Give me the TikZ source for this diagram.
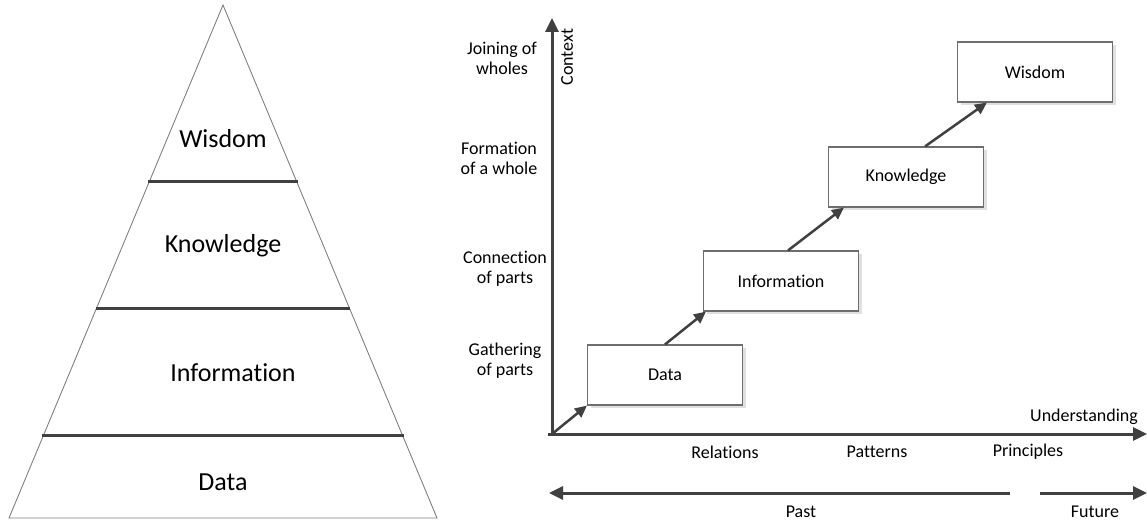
\documentclass[tikz,border=0pt]{standalone}
\usepackage{fontspec}
\setmainfont{Carlito}[Ligatures=NoCommon]
\usetikzlibrary{positioning, arrows.meta, shadows, calc}
\definecolor{linegray}{HTML}{404040}
\definecolor{boxgray}{HTML}{6E6E6E}

\begin{document}
\begin{tikzpicture}[x=1pt, y=-1pt,
  every node/.style={font=\fontsize{18}{20}\selectfont, align=center, inner sep=0pt},
  big/.style={font=\fontsize{26}{30}\selectfont},
  level/.style={line width=3pt, draw=linegray},
  stage/.style={draw=boxgray, line width=1.1pt, fill=white, minimum width=155pt, minimum height=60pt,
    drop shadow={shadow xshift=3pt, shadow yshift=-3pt, fill=black!12, opacity=1}},
  axis/.style={line width=3pt, draw=linegray, -{Triangle[length=14pt,width=13pt]}},
  link/.style={line width=2.5pt, draw=linegray, -{Triangle[length=12pt,width=11pt]}}]
  \useasboundingbox (0,0) rectangle (1147,521);

  % pyramid
  \coordinate (apex) at (223,5);
  \coordinate (bl) at (9,518);
  \coordinate (br) at (437,518);
  \draw[gray, line width=0.9pt] (apex) -- (br) -- (bl) -- cycle;
  \draw[level] ($(apex)!0.345!(bl)+(-1,0)$) -- ($(apex)!0.345!(br)+(1,0)$);
  \draw[level] ($(apex)!0.591!(bl)+(-1,0)$) -- ($(apex)!0.591!(br)+(1,0)$);
  \draw[level] ($(apex)!0.840!(bl)+(-1,0)$) -- ($(apex)!0.840!(br)+(1,0)$);
  \node[big] (pw) at (223,139) {Wisdom};
  \node[big] (pk) at (223,246) {Knowledge};
  \node[big] (pi) at (233,373) {Information};
  \node[big] (pd) at (223,482) {Data};

  % axes
  \coordinate (o) at (552,434);
  \coordinate (xstart) at (548,434);
  \coordinate (ytip) at (552,18);
  \coordinate (xtip) at (1147,434);
  \draw[axis] ($(o)+(0,1.5)$) -- (ytip);
  \draw[axis] (xstart) -- (xtip);
  \node[rotate=90] (context) at (567,57) {Context};
  \node (under) at (1084,417) {Understanding};
  \node (rel) at (725,452) {Relations};
  \node (pat) at (877,452) {Patterns};
  \node (pri) at (1028,452) {Principles};

  % levels of the context axis
  \node (l4) at (502,58) {Joining of\\wholes};
  \node (l3) at (499,158) {Formation\\of a whole};
  \node (l2) at (505,269) {Connection\\of parts};
  \node (l1) at (505,361) {Gathering\\of parts};

  % stages
  \node[stage] (data) at (665,375) {Data};
  \node[stage] (info) at (781,281) {Information};
  \node[stage] (know) at (906,177) {Knowledge};
  \node[stage] (wis) at (1035,72) {Wisdom};
  \draw[link] (o) -- (data.south west);
  \draw[link] (data.north) -- ([xshift=3pt]info.south west);
  \draw[link] ([xshift=7pt]info.north) -- ([xshift=16pt]know.south west);
  \draw[link] ([xshift=19pt]know.north) -- ([xshift=30pt]wis.south west);

  % time line
  \coordinate (pastend) at (1010,493);
  \coordinate (pasttip) at (549,493);
  \coordinate (futstart) at (1040,493);
  \coordinate (futtip) at (1147,493);
  \draw[axis] (pastend) -- (pasttip);
  \draw[axis] (futstart) -- (futtip);
  \node (past) at (801,512) {Past};
  \node (fut) at (1095,512) {Future};
\end{tikzpicture}
\end{document}
